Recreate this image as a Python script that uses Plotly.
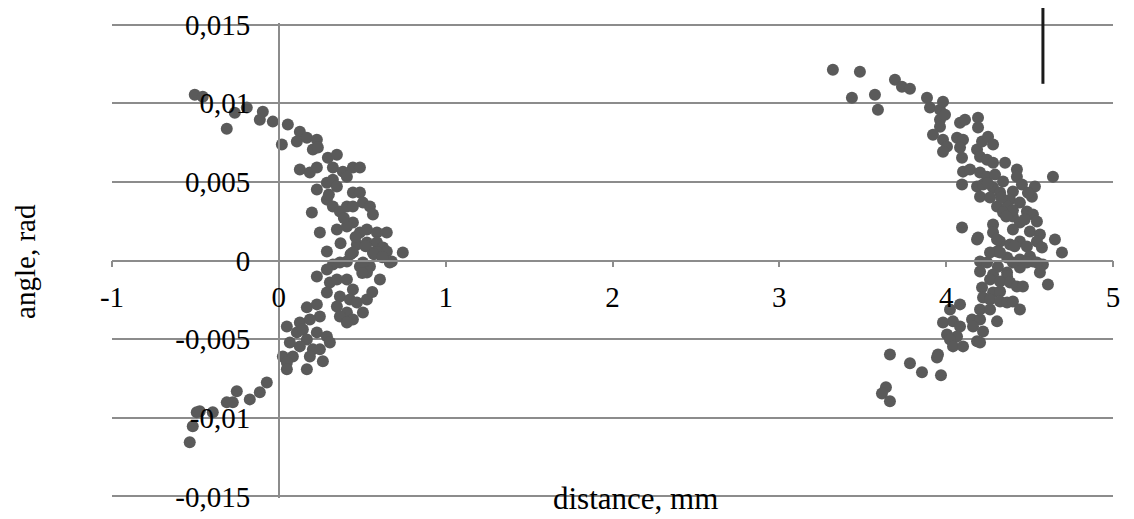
import plotly.graph_objects as go

# ---- data (distance in mm, angle in rad) ----
distance_left = [
    -0.504, -0.456, -0.264, -0.192, -0.312, -0.096, -0.114, -0.036, 0.018, 0.054,
    0.126, 0.108, 0.168, 0.228, 0.204, 0.234, 0.294, 0.348, 0.126, 0.186,
    0.228, 0.324, 0.384, 0.444, 0.486, 0.228, 0.288, 0.324, 0.348, 0.408,
    0.444, 0.486, 0.288, 0.324, 0.366, 0.408, 0.444, 0.504, 0.546, 0.198,
    0.564, 0.444, 0.348, 0.408, 0.246, 0.486, 0.528, 0.588, 0.647, 0.468,
    0.528, 0.588, 0.624, 0.288, 0.444, 0.564, 0.647, 0.677, 0.743, 0.408,
    0.324, 0.486, 0.546, 0.228, 0.288, 0.366, 0.504, 0.528, 0.606, 0.665,
    0.588, 0.306, 0.348, 0.408, 0.444, 0.288, 0.366, 0.426, 0.468, 0.348,
    0.408, 0.528, 0.504, 0.366, 0.444, 0.408, 0.168, 0.228, 0.246, 0.126,
    0.186, 0.048, 0.108, 0.144, 0.168, 0.228, 0.288, 0.306, 0.066, 0.126,
    0.204, 0.246, 0.186, 0.024, 0.084, 0.048, 0.264, 0.048, 0.168, -0.072,
    -0.114, -0.174, -0.252, -0.276, -0.312, -0.396, -0.474, -0.492, -0.516, -0.534,
    0.30, 0.39, 0.46, 0.52, 0.57, 0.62, 0.43, 0.37, 0.50, 0.56,
]
angle_left = [
    0.01054, 0.01041, 0.0094, 0.00972, 0.00838, 0.00946, 0.00895, 0.00883, 0.00737, 0.00864,
    0.00819, 0.00756, 0.00781, 0.00768, 0.00705, 0.00718, 0.00654, 0.00673, 0.00578, 0.00559,
    0.00591, 0.00591, 0.00565, 0.00591, 0.00591, 0.00451, 0.00495, 0.00514, 0.0047, 0.00533,
    0.00432, 0.00432, 0.00387, 0.00343, 0.00311, 0.00343, 0.00343, 0.00368, 0.00343, 0.00305,
    0.00292, 0.00241, 0.00197, 0.00216, 0.00178, 0.00178, 0.00197, 0.00178, 0.00178, 0.00102,
    0.00114, 0.00114, 0.00083, 0.00057, 0.00051, 0.00051, 0.00057, -0.00006, 0.00051, -0.00006,
    -0.00025, -0.00038, -0.00038, -0.00102, -0.00057, -0.00013, -0.00013, -0.00076, -0.00121, -0.00013,
    0.00051, -0.0014, -0.00121, -0.00121, -0.00184, -0.00203, -0.00229, -0.00248, -0.00267, -0.00292,
    -0.0033, -0.00248, -0.0033, -0.00356, -0.00375, -0.00394, -0.00298, -0.00279, -0.00356, -0.00394,
    -0.00375, -0.00419, -0.00457, -0.00438, -0.00502, -0.00457, -0.00483, -0.00521, -0.00521, -0.00546,
    -0.00565, -0.00565, -0.0061, -0.0061, -0.0061, -0.00648, -0.00641, -0.00692, -0.00692, -0.00775,
    -0.00838, -0.00883, -0.00832, -0.00902, -0.00902, -0.00965, -0.00959, -0.00965, -0.01054, -0.01156,
    0.0042, 0.0027, 0.0015, 0.0009, 0.0004, 0.0002, 0.0004, 0.0011, -0.0008, -0.0020,
]

distance_right = [
    3.321, 3.483, 3.435, 3.573, 3.591, 3.693, 3.735, 3.783, 3.885, 3.903,
    3.963, 3.981, 3.963, 3.993, 3.963, 3.921, 3.981, 4.005, 3.981, 4.083,
    4.113, 4.191, 4.191, 4.065, 4.101, 4.083, 4.095, 4.185, 4.215, 4.251,
    4.281, 4.203, 4.245, 4.281, 4.353, 4.101, 4.143, 4.203, 4.245, 4.293,
    4.341, 4.424, 4.424, 4.454, 4.532, 4.640, 4.095, 4.185, 4.221, 4.281,
    4.203, 4.263, 4.323, 4.400, 4.383, 4.514, 4.305, 4.365, 4.442, 4.484,
    4.341, 4.400, 4.520, 4.442, 4.544, 4.281, 4.095, 4.191, 4.281, 4.400,
    4.502, 4.562, 4.544, 4.442, 4.323, 4.383, 4.305, 4.263, 4.484, 4.574,
    4.652, 4.694, 4.203, 4.245, 4.365, 4.442, 4.502, 4.520, 4.580, 4.442,
    4.203, 4.281, 4.365, 4.562, 4.185, 4.305, 4.323, 4.400, 4.484, 4.544,
    4.365, 4.610, 4.263, 4.323, 4.383, 4.424, 4.460, 4.215, 4.281, 4.323,
    4.221, 4.263, 4.323, 4.365, 4.400, 4.442, 4.083, 4.023, 4.203, 4.263,
    4.155, 4.203, 4.305, 3.981, 4.041, 4.083, 4.161, 4.221, 4.005, 4.065,
    4.023, 4.185, 4.203, 4.041, 4.101, 3.951, 3.945, 3.663, 3.783, 3.855,
    3.969, 3.639, 3.615, 3.663,
    4.33, 4.40, 4.47, 4.36, 4.25, 4.49, 4.41, 4.31,
]
angle_right = [
    0.01213, 0.012, 0.01035, 0.01054, 0.00959, 0.01149, 0.01105, 0.01092, 0.01035, 0.00972,
    0.00959, 0.0101, 0.00895, 0.00927, 0.00851, 0.008, 0.00768, 0.00724, 0.00692, 0.00876,
    0.00895, 0.00908, 0.00845, 0.00781, 0.00768, 0.00718, 0.00654, 0.00705, 0.00756, 0.00787,
    0.00737, 0.0066, 0.00641, 0.00622, 0.00622, 0.00565, 0.00578, 0.00559, 0.00533, 0.00546,
    0.00502, 0.00578, 0.00533, 0.00483, 0.0047, 0.00533, 0.00483, 0.0047, 0.00483, 0.00464,
    0.00406, 0.004, 0.00432, 0.00438, 0.00387, 0.00406, 0.00343, 0.00343, 0.00368, 0.00311,
    0.00305, 0.00279, 0.00292, 0.00241, 0.00248, 0.00229, 0.0021, 0.00146, 0.00178, 0.00197,
    0.00184, 0.00165, 0.00121, 0.00121, 0.00121, 0.00102, 0.00057, 0.00051, 0.00089, 0.00083,
    0.00133, 0.00051, -0.00006, -0.00013, 0.00019, 0.00006, 0.00025, -0.00006, -0.00025, -0.00044,
    -0.0007, -0.00089, -0.00076, -0.00076, 0.00133, 0.00133, 0.00051, -0.00013, -0.00013, -0.00013,
    -0.00102, -0.00152, -0.00121, -0.00133, -0.0014, -0.00165, -0.00165, -0.00171, -0.00203, -0.00197,
    -0.00235, -0.00248, -0.0026, -0.00267, -0.0026, -0.00311, -0.00279, -0.00311, -0.00311, -0.00311,
    -0.00375, -0.00375, -0.00387, -0.00394, -0.00387, -0.00419, -0.00419, -0.00451, -0.0047, -0.00483,
    -0.00502, -0.00514, -0.00521, -0.00546, -0.00546, -0.00597, -0.00616, -0.00597, -0.00654, -0.00711,
    -0.0073, -0.00806, -0.00845, -0.00895,
    0.0040, 0.0032, 0.0026, 0.0028, 0.0049, 0.0043, 0.0009, -0.0004,
]

x_tickvals = [-1, 0, 1, 2, 3, 4, 5]
x_ticktext = ["-1", "0", "1", "2", "3", "4", "5"]
y_tickvals = [-0.015, -0.01, -0.005, 0, 0.005, 0.01, 0.015]
y_ticktext = ["-0,015", "-0,01", "-0,005", "0", "0,005", "0,01", "0,015"]

x_title = "distance, mm"
y_title = "angle, rad"

FONT = "Liberation Serif, Times New Roman, serif"
GRID = "#8c8c8c"
MARK = "#5a5a5a"

fig = go.Figure()
fig.add_trace(go.Scatter(
    x=distance_left + distance_right,
    y=angle_left + angle_right,
    mode="markers",
    marker=dict(color=MARK, size=12, line=dict(width=0)),
    showlegend=False,
    hoverinfo="x+y",
))

fig.update_layout(
    width=1126, height=511,
    margin=dict(l=104, r=21, t=15, b=21, autoexpand=False),
    paper_bgcolor="white", plot_bgcolor="white",
    font=dict(family=FONT, size=29, color="black"),
    separators=",.",
    xaxis=dict(
        range=[-1, 5], tickvals=x_tickvals, ticktext=x_ticktext,
        anchor="free", position=0.5, automargin=False,
        showline=True, linecolor=GRID, linewidth=1.5,
        ticks="outside", ticklen=6, tickcolor=GRID, tickwidth=1.5,
        showgrid=False, zeroline=False,
        ticklabelstandoff=5, ticklabeloverflow="allow",
        tickfont=dict(family=FONT, size=29, color="black"),
    ),
    yaxis=dict(
        range=[-0.0151, 0.0151], tickvals=y_tickvals, ticktext=y_ticktext,
        anchor="free", position=1/6, automargin=False,
        showline=True, linecolor=GRID, linewidth=1.5,
        ticks="", showgrid=True, gridcolor=GRID, gridwidth=1.5,
        zeroline=False,
        ticklabelstandoff=22, ticklabeloverflow="allow",
        tickfont=dict(family=FONT, size=29, color="black"),
    ),
    annotations=[
        dict(text=y_title, xref="paper", yref="paper", x=-0.087, y=0.499,
             textangle=-90, showarrow=False, xanchor="center", yanchor="middle",
             font=dict(family=FONT, size=29, color="black")),
        dict(text=x_title, xref="paper", yref="paper", x=0.5225, y=-0.002,
             showarrow=False, xanchor="center", yanchor="middle",
             font=dict(family=FONT, size=31, color="black")),
    ],
    shapes=[
        dict(type="line", xref="paper", yref="paper", x0=0.930, x1=0.930,
             y0=0.872, y1=1.05, line=dict(color="#1a1a1a", width=3)),
    ],
)

fig.write_html("out.html")
